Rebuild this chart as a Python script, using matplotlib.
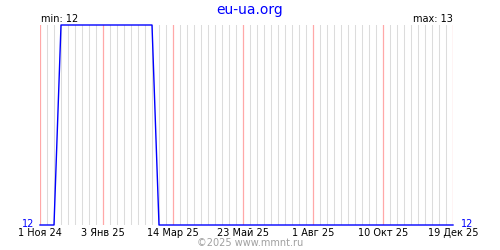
import datetime as dt
import matplotlib
matplotlib.use('Agg')
import matplotlib.pyplot as plt

# change points of the series (weekly readings)
dates = ['2024-11-01', '2024-11-15', '2024-11-22', '2025-02-21', '2025-02-28', '2025-12-19']
values = [12, 12, 13, 13, 12, 12]

tick_dates = ['2024-11-01', '2025-01-03', '2025-03-14', '2025-05-23',
              '2025-08-01', '2025-10-10', '2025-12-19']
tick_labels = ['1 Ноя 24', '3 Янв 25', '14 Мар 25', '23 Май 25',
               '1 Авг 25', '10 Окт 25', '19 Дек 25']

title = 'eu-ua.org'
footer = '©2025 www.mmnt.ru'

x = [dt.datetime.strptime(d, '%Y-%m-%d') for d in dates]
ticks = [dt.datetime.strptime(d, '%Y-%m-%d') for d in tick_dates]
start, end = ticks[0], ticks[-1]

plt.rcParams['font.family'] = 'DejaVu Sans'
fig = plt.figure(figsize=(5, 2.5), dpi=100)
ax = fig.add_axes([0.08, 0.1, 0.826, 0.8])

# weekly grid, pink on labelled dates
day = start
while day <= end:
    if day not in ticks:
        ax.axvline(day, color='#dcdcdc', lw=0.75, zorder=1)
    day += dt.timedelta(days=7)
for t in ticks:
    ax.axvline(t, color='#ffa8a8', lw=0.9, zorder=2)

ax.plot(x, values, color='#0000ff', lw=1.0, zorder=3, clip_on=False)

ax.set_xlim(start, end)
ax.set_ylim(12, 13)
ax.set_yticks([])
ax.set_xticks(ticks)
ax.set_xticklabels(tick_labels, fontsize=7)
ax.tick_params(axis='x', length=0, pad=2)
for s in ax.spines.values():
    s.set_visible(False)

fig.text(0.5, 0.96, title, color='#0000ff', fontsize=10, ha='center', va='center')
fig.text(0.082, 0.925, 'min: %d' % min(values), fontsize=7, ha='left', va='center')
fig.text(0.906, 0.925, 'max: %d' % max(values), fontsize=7, ha='right', va='center')
fig.text(0.068, 0.105, '%d' % values[0], color='#0000ff', fontsize=7, ha='right', va='center')
fig.text(0.922, 0.105, '%d' % values[-1], color='#0000ff', fontsize=7, ha='left', va='center')
fig.text(0.5, 0.03, footer, color='#a0a0a0', fontsize=7, ha='center', va='center')

fig.savefig('out.png', dpi=100)
